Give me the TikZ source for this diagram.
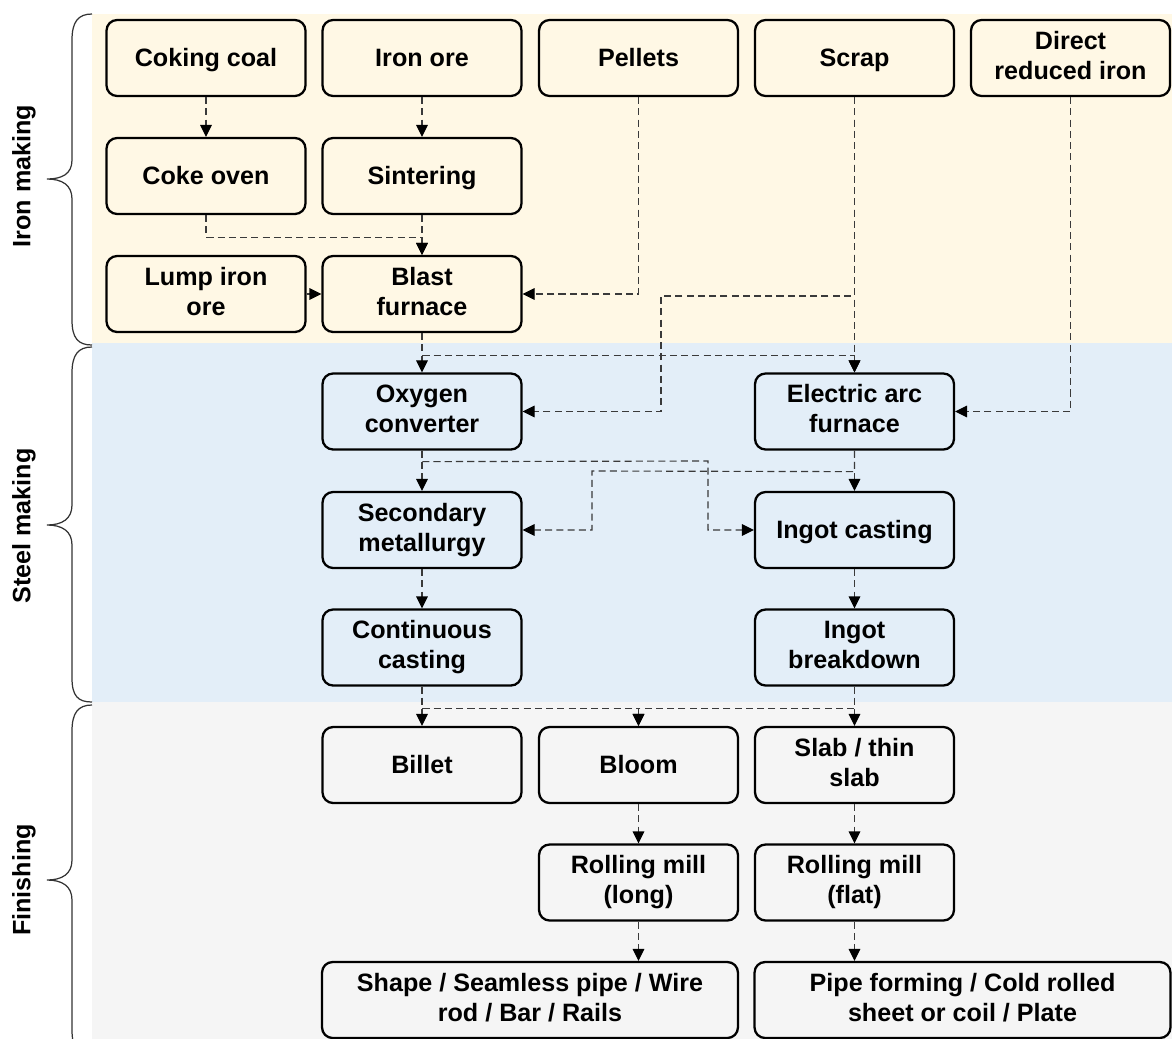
\documentclass[tikz,border=0pt]{standalone}
\usepackage{fontspec}
\setmainfont{Liberation Sans}
\usetikzlibrary{arrows.meta}
\definecolor{ironbg}{HTML}{FFF8E5}
\definecolor{steelbg}{HTML}{E3EEF8}
\definecolor{finbg}{HTML}{F5F5F5}
\definecolor{conncol}{HTML}{3A3A3A}
\definecolor{bracecol}{HTML}{333333}
\newcommand\boxstrut{\rule[-3.4pt]{0pt}{17pt}}
\begin{document}
\begin{tikzpicture}[x=0.02cm,y=-0.02cm,
  box/.style={draw=black, line width=1.3pt, rounded corners=6pt,
    minimum width=3.98cm, minimum height=1.52cm, align=center,
    font=\fontsize{14.3}{17}\selectfont\bfseries, inner sep=0pt,
    execute at begin node=\boxstrut, execute at end node=\boxstrut},
  widebox/.style={box, minimum width=8.32cm},
  conn/.style={draw=conncol, line width=0.65pt, dash pattern=on 4pt off 2.4pt,
    -{Triangle[length=6.8pt,width=6.6pt,color=black]}},
  sidelabel/.style={rotate=90, font=\fontsize{14.3}{17}\selectfont\bfseries, anchor=center},
  bracestyle/.style={draw=bracecol, line width=0.7pt}
]
\clip (0,0) rectangle (1172,1038);
\fill[white] (0,0) rectangle (1172,1038);
% bands
\fill[ironbg] (92,14) rectangle (1172,343);
\fill[steelbg] (92,343) rectangle (1172,702);
\fill[finbg] (92,702) rectangle (1172,1040);

% braces
\draw[bracestyle] (92,14) .. controls (78,14) and (72,22) .. (72,40) -- (72,160)
  .. controls (72,174) and (62,179) .. (47,179) .. controls (62,179) and (72,185) .. (72,199)
  -- (72,320) .. controls (72,338) and (78,345) .. (92,345);
\draw[bracestyle] (92,347) .. controls (78,347) and (72,355) .. (72,373) -- (72,505)
  .. controls (72,519) and (62,525) .. (47,525) .. controls (62,525) and (72,531) .. (72,545)
  -- (72,678) .. controls (72,696) and (78,702) .. (92,702);
\draw[bracestyle] (92,705) .. controls (78,705) and (72,713) .. (72,731) -- (72,860)
  .. controls (72,874) and (62,880) .. (47,880) .. controls (62,880) and (72,886) .. (72,900)
  -- (72,1030) .. controls (72,1048) and (78,1056) .. (92,1056);

\node[sidelabel] (lab1) at (24,176) {Iron making};
\node[sidelabel] (lab2) at (24,526) {Steel making};
\node[sidelabel] (lab3) at (24,880) {Finishing};

% Iron making nodes
\node[box, fill=ironbg] (coal) at (206,58) {Coking coal};
\node[box, fill=ironbg] (ore) at (422,58) {Iron ore};
\node[box, fill=ironbg] (pellets) at (638.5,58) {Pellets};
\node[box, fill=ironbg] (scrap) at (854.5,58) {Scrap};
\node[box, fill=ironbg] (dri) at (1070.5,58) {Direct\\reduced iron};
\node[box, fill=ironbg] (coke) at (206,176) {Coke oven};
\node[box, fill=ironbg] (sinter) at (422,176) {Sintering};
\node[box, fill=ironbg] (lump) at (206,294) {Lump iron\\ore};
\node[box, fill=ironbg] (blast) at (422,294) {Blast\\furnace};

% Steel making nodes
\node[box, fill=steelbg] (oxy) at (422,411.5) {Oxygen\\converter};
\node[box, fill=steelbg] (eaf) at (854.5,411.5) {Electric arc\\furnace};
\node[box, fill=steelbg] (sec) at (422,530) {Secondary\\metallurgy};
\node[box, fill=steelbg] (ingot) at (854.5,530) {Ingot casting};
\node[box, fill=steelbg] (cc) at (422,647.5) {Continuous\\casting};
\node[box, fill=steelbg] (ib) at (854.5,647.5) {Ingot\\breakdown};

% Finishing nodes
\node[box, fill=finbg] (billet) at (422,765) {Billet};
\node[box, fill=finbg] (bloom) at (638.5,765) {Bloom};
\node[box, fill=finbg] (slab) at (854.5,765) {Slab / thin\\slab};
\node[box, fill=finbg] (rml) at (638.5,882.5) {Rolling mill\\(long)};
\node[box, fill=finbg] (rmf) at (854.5,882.5) {Rolling mill\\(flat)};
\node[widebox, fill=finbg] (shape) at (530,1000) {Shape / Seamless pipe / Wire\\rod / Bar / Rails};
\node[widebox, fill=finbg] (pipe) at (962.5,1000) {Pipe forming / Cold rolled\\sheet or coil / Plate};

% junction coordinates
\coordinate (s1) at (854.5,296);
\coordinate (s2) at (661,296);
\coordinate (oc) at (708,461);
\coordinate (ec) at (592,471);

% connectors
\draw[conn] (coal.south) -- (coke.north);
\draw[conn] (ore.south) -- (sinter.north);
\draw[conn] (sinter.south) -- (blast.north);
\draw[conn] (coke.south) -- ++(0,22) -| (blast.north);
\draw[conn] (lump.east) -- (blast.west);
\draw[conn] (pellets.south) |- (blast.east);
\draw[conn] (scrap.south) -- (s1) -- (s2) |- (oxy.east);
\draw[conn] (scrap.south) -- (eaf.north);
\draw[conn] (dri.south) |- (eaf.east);
\draw[conn] (blast.south) -- (oxy.north);
\draw[conn] (blast.south) -- ++(0,22) -| (eaf.north);
\draw[conn] (oxy.south) -- (sec.north);
\draw[conn] (oxy.south) -- ++(0,11) -- (oc) |- (ingot.west);
\draw[conn] (eaf.south) -- (ingot.north);
\draw[conn] (eaf.south) -- ++(0,21) -- (ec) |- (sec.east);
\draw[conn] (sec.south) -- (cc.north);
\draw[conn] (ingot.south) -- (ib.north);
\draw[conn] (cc.south) -- (billet.north);
\draw[conn] (cc.south) -- ++(0,22) -| (bloom.north);
\draw[conn] (ib.south) -- ++(0,22) -| (bloom.north);
\draw[conn] (ib.south) -- (slab.north);
\draw[conn] (bloom.south) -- (rml.north);
\draw[conn] (slab.south) -- (rmf.north);
\draw[conn] (rml.south) -- (rml.south |- shape.north);
\draw[conn] (rmf.south) -- (rmf.south |- pipe.north);
\end{tikzpicture}
\end{document}
